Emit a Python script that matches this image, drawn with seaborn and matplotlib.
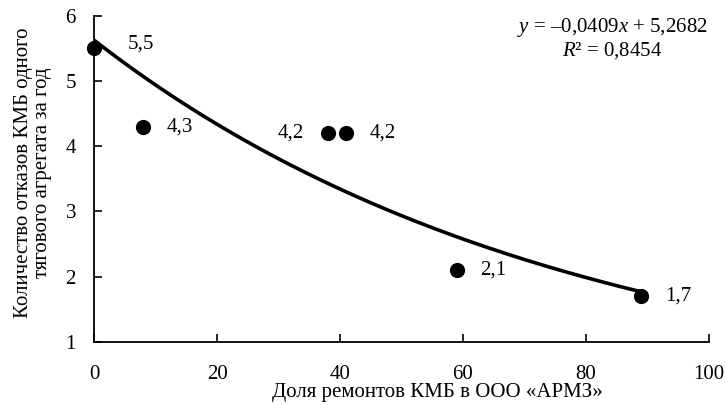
import numpy as np
import pandas as pd
import matplotlib
matplotlib.use("Agg")
import matplotlib.pyplot as plt
import seaborn as sns

# data
share = [0, 8, 38, 41, 59, 89]          # доля ремонтов, %
failures = [5.5, 4.3, 4.2, 4.2, 2.1, 1.7]
labels = ["5,5", "4,3", "4,2", "4,2", "2,1", "1,7"]
label_side = ["right", "right", "left", "right", "right", "right"]
eq_text = ["$y$ = –0,0409$x$ + 5,2682", "$R$² = 0,8454"]

df = pd.DataFrame({"x": share, "y": failures})

# exponential trend fitted on the points
b, ln_a = np.polyfit(df["x"], np.log(df["y"]), 1)
xs = np.linspace(min(share), max(share), 200)
trend = pd.DataFrame({"x": xs, "y": np.exp(ln_a) * np.exp(b * xs)})

sns.set_style("white")
plt.rcParams["font.family"] = ["Liberation Serif", "DejaVu Serif"]
plt.rcParams["mathtext.fontset"] = "custom"
plt.rcParams["mathtext.rm"] = "Liberation Serif"
plt.rcParams["mathtext.it"] = "Liberation Serif:italic"
plt.rcParams["text.color"] = "black"
plt.rcParams["axes.labelcolor"] = "black"
plt.rcParams["xtick.color"] = "black"
plt.rcParams["ytick.color"] = "black"

FS = 15

fig = plt.figure(figsize=(7.26, 4.05), dpi=100)
ax = fig.add_axes([0.1295, 0.156, 0.847, 0.805])

sns.lineplot(data=trend, x="x", y="y", color="black", linewidth=2.6, ax=ax)
sns.scatterplot(data=df, x="x", y="y", color="black", s=120, edgecolor="black",
                linewidth=0, zorder=3, clip_on=False, ax=ax)

for xv, yv, lab, side in zip(share, failures, labels, label_side):
    dx = 17 if side == "right" else -17
    ax.annotate(lab, (xv, yv), xytext=(dx, 0), textcoords="offset points",
                ha="left" if side == "right" else "right", va="center",
                fontsize=FS)
# 5,5 label sits a bit higher and further out
ax.texts[0].set_position((24, 3))

ax.text(0.843, 1.0, eq_text[0] + "\n" + eq_text[1], transform=ax.transAxes,
        ha="center", va="top", fontsize=FS, linespacing=1.1,
        multialignment="center")

ax.set_xlim(0, 100)
ax.set_ylim(1, 6)
ax.set_xticks(range(0, 101, 20))
ax.set_yticks(range(1, 7))
ax.tick_params(direction="in", length=6, width=1.2, labelsize=FS,
               bottom=True, left=True)
ax.tick_params(axis="x", pad=17)
ax.tick_params(axis="y", pad=13)
for side in ["top", "right"]:
    ax.spines[side].set_visible(False)
for side in ["left", "bottom"]:
    ax.spines[side].set_color("black")
    ax.spines[side].set_linewidth(1.3)

ax.set_xlabel("Доля ремонтов КМБ в ООО «АРМЗ»", fontsize=FS)
ax.set_ylabel("Количество отказов КМБ одного\nтягового агрегата за год",
              fontsize=FS, linespacing=1.05)
ax.xaxis.set_label_coords(0.559, -0.127)
ax.yaxis.set_label_coords(-0.068, 0.52)

fig.savefig("out.png", dpi=100)
